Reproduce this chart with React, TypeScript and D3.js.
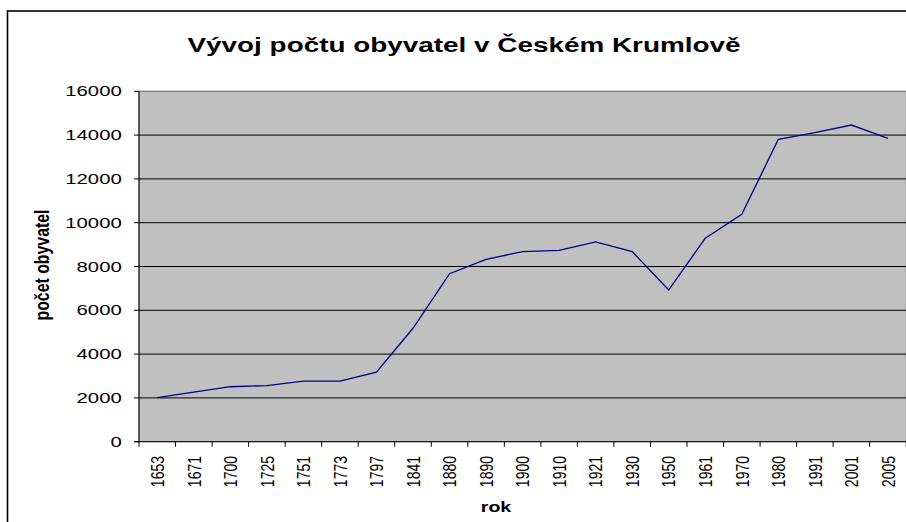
import * as d3 from 'd3';
import React, { useRef, useEffect } from 'react';

const years = ['1653', '1671', '1700', '1725', '1751', '1773', '1797', '1841', '1880', '1890', '1900',
    '1910', '1921', '1930', '1950', '1961', '1970', '1980', '1991', '2001', '2005'];
const population = [2010, 2260, 2510, 2560, 2770, 2770, 3180, 5180, 7670, 8330, 8680,
    8740, 9120, 8680, 6930, 9290, 10380, 13810, 14110, 14460, 13850];
const yTicks = [0, 2000, 4000, 6000, 8000, 10000, 12000, 14000, 16000];

const W = 906;
const H = 522;
const FONT = 'Arial, "Liberation Sans", sans-serif';
const SX = 1.4; // the picture is stretched sideways

export default function App() {
    const ref = useRef<SVGSVGElement>(null);

    useEffect(() => {
        document.body.style.margin = '0';
        const svg = d3.select(ref.current);
        svg.selectAll('*').remove();

        const left = 139, right = 906.2, top = 91.3, bottom = 441.7;

        const x = d3.scaleBand().domain(years).range([left, right]).padding(0);
        const y = d3.scaleLinear().domain([0, 16000]).range([bottom, top]);

        svg.append('rect').attr('width', W).attr('height', H).attr('fill', '#ffffff');

        // outer chart border
        svg.append('rect')
            .attr('x', 7.5).attr('y', 11)
            .attr('width', W + 20).attr('height', H + 20)
            .attr('fill', 'none').attr('stroke', '#000').attr('stroke-width', 1.6);

        // plot area
        svg.append('rect')
            .attr('x', left).attr('y', top)
            .attr('width', right - left).attr('height', bottom - top)
            .attr('fill', '#c0c0c0').attr('stroke', '#808080').attr('stroke-width', 1);

        // gridlines
        svg.append('g')
            .selectAll('line')
            .data(yTicks.filter(d => d > 0))
            .join('line')
            .attr('x1', left).attr('x2', right)
            .attr('y1', d => y(d)).attr('y2', d => y(d))
            .attr('stroke', d => d === 16000 ? '#808080' : '#000')
            .attr('stroke-width', 1);

        // y axis
        const ya = svg.append('g');
        ya.append('line')
            .attr('x1', left).attr('x2', left).attr('y1', top).attr('y2', bottom)
            .attr('stroke', '#000');
        ya.selectAll('line.tick')
            .data(yTicks)
            .join('line')
            .attr('class', 'tick')
            .attr('x1', left - 5).attr('x2', left)
            .attr('y1', d => y(d)).attr('y2', d => y(d))
            .attr('stroke', '#000');
        ya.selectAll('text')
            .data(yTicks)
            .join('text')
            .attr('transform', d => `translate(121.7,${y(d) + 5}) scale(1.45,1)`)
            .attr('text-anchor', 'end')
            .attr('font-family', FONT)
            .attr('font-size', 14)
            .attr('fill', '#000')
            .text(d => String(d));

        // x axis
        const xa = svg.append('g');
        xa.append('line')
            .attr('x1', left - 5).attr('x2', right).attr('y1', bottom).attr('y2', bottom)
            .attr('stroke', '#000');
        const bounds = years.map(d => x(d) as number).concat([right]);
        xa.selectAll('line.tick')
            .data(bounds)
            .join('line')
            .attr('class', 'tick')
            .attr('x1', d => d).attr('x2', d => d)
            .attr('y1', bottom).attr('y2', bottom + 5)
            .attr('stroke', '#000');
        xa.selectAll('text')
            .data(years)
            .join('text')
            .attr('transform', d => `translate(${(x(d) as number) + x.bandwidth() / 2},456) scale(1.33,1) rotate(-90)`)
            .attr('text-anchor', 'end')
            .attr('dy', '0.36em')
            .attr('font-family', FONT)
            .attr('font-size', 14)
            .attr('fill', '#000')
            .text(d => d);

        // series line
        const line = d3.line<number>()
            .x((d, i) => (x(years[i]) as number) + x.bandwidth() / 2)
            .y(d => y(d));
        svg.append('path')
            .datum(population)
            .attr('d', line)
            .attr('fill', 'none')
            .attr('stroke', '#000080')
            .attr('stroke-width', 1.3);

        // titles
        svg.append('text')
            .attr('x', 464).attr('y', 52)
            .attr('text-anchor', 'middle')
            .attr('font-family', FONT)
            .attr('font-weight', 'bold')
            .attr('font-size', 21)
            .attr('textLength', 553)
            .attr('lengthAdjust', 'spacingAndGlyphs')
            .text('Vývoj počtu obyvatel v Českém Krumlově');

        svg.append('text')
            .attr('transform', `translate(42,265) scale(${SX},1) rotate(-90)`)
            .attr('text-anchor', 'middle')
            .attr('dy', '0.35em')
            .attr('font-family', FONT)
            .attr('font-weight', 'bold')
            .attr('font-size', 14)
            .attr('textLength', 111)
            .attr('lengthAdjust', 'spacingAndGlyphs')
            .text('počet obyvatel');

        svg.append('text')
            .attr('transform', `translate(496,512) scale(${SX},1)`)
            .attr('text-anchor', 'middle')
            .attr('font-family', FONT)
            .attr('font-weight', 'bold')
            .attr('font-size', 14)
            .text('rok');
    }, []);

    return (
        <svg ref={ref} width={W} height={H} style={{ display: 'block' }}>
        </svg>
    );
}
